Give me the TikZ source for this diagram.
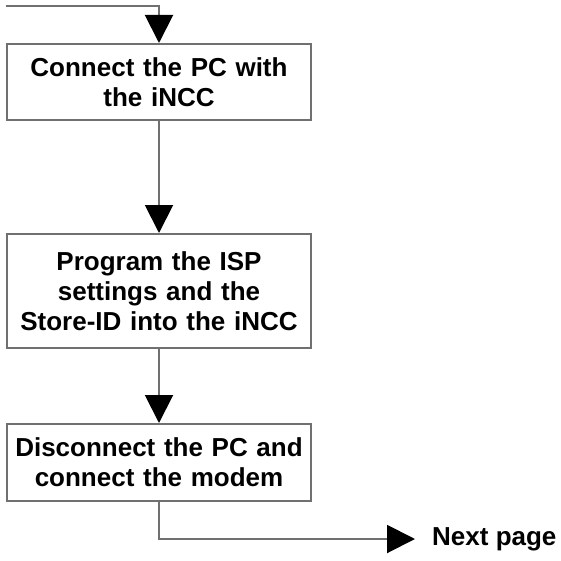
\documentclass[tikz,border=0pt]{standalone}
\usepackage{fontspec}
\setmainfont{Liberation Sans}
\usetikzlibrary{arrows.meta}
\definecolor{linegray}{HTML}{707070}
\tikzset{
  stepbox/.style={draw=linegray, line width=2pt, minimum width=304pt, inner sep=0pt,
    text width=300pt, align=center, font=\bfseries\fontsize{26}{30}\selectfont},
  flow/.style={draw=linegray, line width=2pt,
    -{Triangle[width=28pt,length=28pt,fill=black,color=black]}},
  plain/.style={draw=linegray, line width=2pt}
}
\begin{document}
\begin{tikzpicture}[x=1pt,y=-1pt]
\useasboundingbox (0,0) rectangle (560,561);
\node[stepbox, minimum height=76pt] (b1) at (159,82) {Connect the PC with\\the iNCC};
\node[stepbox, minimum height=114pt] (b2) at (159,291) {Program the ISP\\settings and the\\Store-ID into the iNCC};
\node[stepbox, minimum height=77pt] (b3) at (159,462.5) {Disconnect the PC and\\connect the modem};
\node[anchor=west, inner ysep=0pt, inner xsep=17pt, font=\bfseries\fontsize{26}{30}\selectfont] (np) at (415,539) {Next page};
\coordinate (start) at (6,6);
\draw[flow] (start) -| (b1.north);
\draw[flow] (b1.south) -- (b2.north);
\draw[flow] (b2.south) -- (b3.north);
\draw[flow] (b3.south) |- (np.west);
\end{tikzpicture}
\end{document}
